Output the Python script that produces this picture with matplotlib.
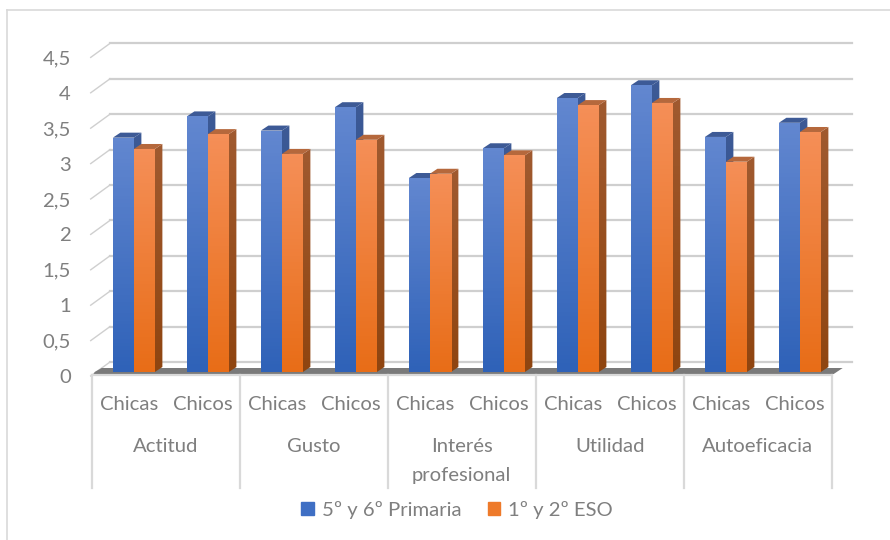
import numpy as np
import matplotlib
matplotlib.use('Agg')
import matplotlib.pyplot as plt
from matplotlib.colors import LinearSegmentedColormap
from matplotlib.patches import Polygon, Patch
from matplotlib.transforms import blended_transform_factory

plt.rcParams['font.family'] = ['Lato', 'DejaVu Sans']

groups = ['Actitud', 'Gusto', 'Interés\nprofesional', 'Utilidad', 'Autoeficacia']
subgroups = ['Chicas', 'Chicos'] * 5
primaria = [3.31, 3.61, 3.41, 3.74, 2.74, 3.16, 3.87, 4.05, 3.32, 3.52]
eso = [3.15, 3.36, 3.08, 3.28, 2.80, 3.06, 3.77, 3.80, 2.97, 3.39]
yticks = [0, 0.5, 1, 1.5, 2, 2.5, 3, 3.5, 4, 4.5]
yticklabels = ['0', '0,5', '1', '1,5', '2', '2,5', '3', '3,5', '4', '4,5']
series_names = ['5º y 6º Primaria', '1º y 2º ESO']

W, H = 890, 540
GRID = '#cfcfcf'
LIGHT = '#d9d9d9'
TEXT = '#7f7f7f'
FS = 14.6

# axes box in pixels, y=0 sits on the bar feet
left, right, y0_px, ytop_px = 91.7, 831.7, 372, 53.4

fig = plt.figure(figsize=(W / 100, H / 100), dpi=100)
ax = fig.add_axes([left / W, 1 - y0_px / H, (right - left) / W, (y0_px - ytop_px) / H])
ax.set_xlim(-0.5, 9.5)
ax.set_ylim(0, 4.5)
ax.axis('off')

px_x = 1 / 74.0
px_y = 4.5 / (y0_px - ytop_px)
bar_w = 21 * px_x
bar_off = 0.07
dep_x, dep_y = 7.5 * px_x, 5 * px_y


def fake3d(xs, values, cmap, top_col, side_cmap, z):
    bars = ax.bar(xs, values, width=bar_w, color='none', zorder=z + 0.2)
    grad = np.linspace(1, 0, 64).reshape(-1, 1)
    for bar, val in zip(bars, values):
        x0 = bar.get_x()
        x1 = x0 + bar_w
        side = Polygon([(x1, 0), (x1 + dep_x, dep_y), (x1 + dep_x, val + dep_y), (x1, val)],
                       closed=True, color='none', zorder=z)
        ax.add_patch(side)
        im = ax.imshow(grad, extent=(x1, x1 + dep_x, 0, val + dep_y), aspect='auto', cmap=side_cmap, zorder=z)
        im.set_clip_path(side)
        ax.add_patch(Polygon([(x0, val), (x1, val), (x1 + dep_x, val + dep_y), (x0 + dep_x, val + dep_y)],
                             closed=True, color=top_col, lw=0, zorder=z + 0.1))
        im = ax.imshow(grad, extent=(x0, x1, 0, val), aspect='auto', cmap=cmap, zorder=z + 0.1)
        im.set_clip_path(bar)


# back wall and left diagonals
for t, lab in zip(yticks, yticklabels):
    ax.plot([-0.5 + 18.3 * px_x, 9.5 + 20 * px_x], [t + 10 * px_y] * 2, color=GRID, lw=1.6, zorder=1, clip_on=False)
    ax.plot([-0.5 - 1 * px_x, -0.5 + 18.3 * px_x], [t - 4 * px_y, t + 10 * px_y], color=GRID, lw=1.0, zorder=1, clip_on=False)
    ax.text(-0.5 - 21 * px_x, t - 5.5 * px_y, lab, ha='right', va='center', fontsize=FS, color=TEXT, clip_on=False)

# floor edge
ax.add_patch(Polygon([(-0.5 + 3 * px_x, 0), (-0.5 + 10 * px_x, 4 * px_y), (9.5 + 11 * px_x, 4 * px_y), (9.5 + 2 * px_x, -2 * px_y), (-0.5 + 2 * px_x, -2 * px_y)],
                     closed=True, color='#7a7a7a', lw=0, zorder=2, clip_on=False))
ax.plot([-0.5, 9.5], [-3 * px_y] * 2, color=LIGHT, lw=1.6, zorder=2, clip_on=False)

blue = LinearSegmentedColormap.from_list('b', ['#2f62b8', '#6287d0'])
orange = LinearSegmentedColormap.from_list('o', ['#e86d17', '#f58f58'])
blue_side = LinearSegmentedColormap.from_list('bs', ['#23488a', '#3d5a96'])
orange_side = LinearSegmentedColormap.from_list('os', ['#8f4510', '#a05a30'])

xs = np.arange(10)
fake3d(xs + bar_off - bar_w / 2, primaria, blue, '#3d5a96', blue_side, 3)
fake3d(xs + bar_off + bar_w / 2, eso, orange, '#b5683c', orange_side, 4)

# multi level category axis
trans = blended_transform_factory(ax.transData, fig.transFigure)
for x in np.arange(-0.5, 10, 2):
    ax.plot([x, x], [1 - 375 / H, 1 - 488 / H], color=LIGHT, lw=1.6, transform=trans, clip_on=False)
for i, s in enumerate(subgroups):
    ax.text(i, 1 - 404.5 / H, s, transform=trans, ha='center', va='center', fontsize=FS, color=TEXT)
for i, g in enumerate(groups):
    for j, ln in enumerate(g.split('\n')):
        ax.text(2 * i + 0.5, 1 - (447 + 28 * j) / H, ln, transform=trans, ha='center', va='center',
                fontsize=FS, color=TEXT)

# chart frame
fig.add_artist(plt.Line2D([7 / W, 7 / W], [0, 1 - 10 / H], color=LIGHT, lw=1.2))
fig.add_artist(plt.Line2D([7 / W, 1], [1 - 10 / H, 1 - 10 / H], color=LIGHT, lw=1.2))

handles = [Patch(color='#3f6fc4', label=series_names[0]), Patch(color='#ee7a2a', label=series_names[1])]
fig.legend(handles=handles, loc='center', bbox_to_anchor=(457 / W, 1 - 510 / H), ncol=2, frameon=False,
           fontsize=FS, labelcolor=TEXT, handlelength=0.6, handleheight=0.6, handletextpad=0.4, columnspacing=1.3)

fig.savefig('out.png', dpi=100)
